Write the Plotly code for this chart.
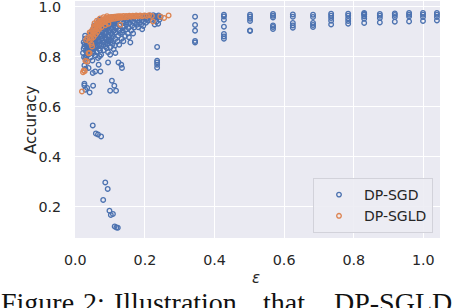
import plotly.graph_objects as go

# ---- DP-SGD (blue) ----
sgd_eps = [
    # lower scattered points of the main cluster
    0.026, 0.029, 0.026, 0.029, 0.050, 0.057, 0.072, 0.038, 0.067, 0.124, 0.132, 0.134, 0.094, 0.158, 0.100, 0.115,
    0.026, 0.026, 0.029, 0.034, 0.041, 0.051, 0.105, 0.112, 0.100, 0.117,
    # dense cluster
    0.022, 0.024, 0.027, 0.030, 0.033, 0.035, 0.037, 0.039, 0.031, 0.025, 0.036, 0.028,
    0.041, 0.043, 0.045, 0.046, 0.048, 0.050, 0.052, 0.053, 0.055, 0.056, 0.058, 0.059, 0.044, 0.047, 0.051, 0.057, 0.054, 0.042,
    0.061, 0.062, 0.063, 0.064, 0.066, 0.067, 0.068, 0.069, 0.071, 0.072, 0.073, 0.074, 0.076, 0.077, 0.078, 0.079, 0.065, 0.070, 0.075, 0.063,
    0.081, 0.082, 0.083, 0.084, 0.085, 0.086, 0.087, 0.088, 0.089, 0.091, 0.092, 0.093, 0.094, 0.095, 0.096, 0.097, 0.098, 0.099, 0.090, 0.085,
    0.101, 0.102, 0.103, 0.104, 0.105, 0.106, 0.107, 0.108, 0.109, 0.111, 0.112, 0.113, 0.114, 0.115, 0.116, 0.117, 0.118, 0.119, 0.110, 0.104,
    0.121, 0.123, 0.125, 0.127, 0.129, 0.131, 0.133, 0.135, 0.137, 0.139, 0.141, 0.143, 0.145, 0.147, 0.149, 0.126, 0.138, 0.144, 0.122, 0.134,
    0.151, 0.153, 0.155, 0.157, 0.159, 0.161, 0.163, 0.165, 0.167, 0.169, 0.171, 0.173, 0.175, 0.177, 0.179, 0.154, 0.166,
    0.181, 0.183, 0.185, 0.187, 0.189, 0.191, 0.193, 0.195, 0.197, 0.199, 0.201, 0.203, 0.205, 0.207, 0.209, 0.192,
    0.212, 0.215, 0.218, 0.221, 0.224, 0.227, 0.230, 0.233, 0.236, 0.239, 0.242, 0.245, 0.228, 0.238,
    # extra density in the lower-left of the cluster
    0.030, 0.034, 0.038, 0.043, 0.047, 0.052, 0.056, 0.061, 0.066, 0.071, 0.076, 0.081, 0.086, 0.091, 0.096, 0.101,
    0.033, 0.040, 0.049, 0.058, 0.064, 0.070, 0.079, 0.088, 0.097, 0.106, 0.113, 0.120, 0.128, 0.136,
    0.035, 0.045, 0.055, 0.065, 0.075, 0.084, 0.093, 0.103, 0.111, 0.119, 0.127, 0.140, 0.148,
    0.024, 0.028, 0.032, 0.037, 0.042, 0.046, 0.053, 0.060, 0.069, 0.078, 0.087, 0.095,
    # column near 0.235
    0.235, 0.235, 0.235, 0.235, 0.235,
    # low outliers
    0.050, 0.059, 0.065, 0.074, 0.086, 0.093, 0.080, 0.098, 0.102, 0.108, 0.113, 0.118, 0.122,
    # larger-epsilon columns
    0.344, 0.344, 0.344, 0.344, 0.344,
    0.427, 0.427, 0.427, 0.427, 0.427, 0.427, 0.427,
    0.502, 0.502, 0.502, 0.502, 0.502, 0.502,
    0.568, 0.568, 0.568, 0.568, 0.568, 0.568,
    0.625, 0.625, 0.625, 0.625, 0.625,
    0.683, 0.683, 0.683, 0.683, 0.683,
    0.735, 0.735, 0.735, 0.735, 0.735,
    0.784, 0.784, 0.784, 0.784, 0.784,
    0.830, 0.830, 0.830, 0.830, 0.830, 0.830,
    0.875, 0.875, 0.875, 0.875,
    0.918, 0.918, 0.918, 0.918,
    0.959, 0.959, 0.959, 0.959,
    0.999, 0.999, 0.999, 0.999,
    1.039, 1.039, 1.039, 1.039,
]
sgd_acc = [
    0.841, 0.795, 0.765, 0.752, 0.735, 0.741, 0.741, 0.755, 0.768, 0.777, 0.768, 0.755, 0.777, 0.857, 0.808, 0.815,
    0.692, 0.685, 0.668, 0.675, 0.657, 0.684, 0.704, 0.684, 0.664, 0.664,
    0.815, 0.832, 0.851, 0.823, 0.842, 0.866, 0.808, 0.876, 0.862, 0.798, 0.829, 0.872,
    0.812, 0.836, 0.858, 0.884, 0.902, 0.821, 0.846, 0.871, 0.893, 0.918, 0.805, 0.862, 0.797, 0.870, 0.911, 0.838, 0.925, 0.889,
    0.818, 0.847, 0.876, 0.902, 0.929, 0.941, 0.832, 0.861, 0.889, 0.915, 0.936, 0.808, 0.851, 0.874, 0.897, 0.922, 0.795, 0.948, 0.943, 0.921,
    0.826, 0.857, 0.883, 0.909, 0.932, 0.948, 0.842, 0.869, 0.895, 0.919, 0.941, 0.953, 0.818, 0.862, 0.887, 0.905, 0.927, 0.945, 0.835, 0.876,
    0.838, 0.866, 0.892, 0.913, 0.934, 0.951, 0.851, 0.879, 0.902, 0.925, 0.943, 0.956, 0.845, 0.871, 0.897, 0.918, 0.937, 0.949, 0.830, 0.958,
    0.861, 0.884, 0.906, 0.928, 0.944, 0.957, 0.872, 0.896, 0.917, 0.935, 0.951, 0.883, 0.909, 0.929, 0.946, 0.848, 0.862, 0.958, 0.952, 0.940,
    0.893, 0.915, 0.934, 0.949, 0.959, 0.905, 0.924, 0.941, 0.955, 0.917, 0.936, 0.951, 0.962, 0.928, 0.946, 0.878, 0.893,
    0.918, 0.937, 0.952, 0.962, 0.929, 0.946, 0.958, 0.923, 0.941, 0.955, 0.964, 0.936, 0.951, 0.962, 0.944, 0.910,
    0.958, 0.965, 0.948, 0.960, 0.966, 0.953, 0.962, 0.940, 0.957, 0.965, 0.949, 0.959, 0.929, 0.932,
    0.787, 0.818, 0.848, 0.826, 0.857, 0.815, 0.879, 0.839, 0.867, 0.825, 0.884, 0.846, 0.873, 0.851, 0.879, 0.858,
    0.853, 0.870, 0.785, 0.880, 0.888, 0.802, 0.906, 0.910, 0.869, 0.888, 0.906, 0.918, 0.895, 0.905,
    0.780, 0.826, 0.851, 0.860, 0.882, 0.893, 0.912, 0.924, 0.936, 0.942, 0.925, 0.921, 0.938,
    0.858, 0.884, 0.805, 0.851, 0.829, 0.895, 0.829, 0.872, 0.845, 0.864, 0.898, 0.866,
    0.839, 0.784, 0.777, 0.768, 0.756,
    0.525, 0.493, 0.489, 0.481, 0.297, 0.271, 0.227, 0.184, 0.167, 0.171, 0.121, 0.117, 0.116,
    0.960, 0.927, 0.904, 0.863, 0.857,
    0.968, 0.961, 0.948, 0.920, 0.891, 0.881, 0.872,
    0.968, 0.961, 0.952, 0.943, 0.905, 0.903,
    0.971, 0.964, 0.957, 0.925, 0.919, 0.911,
    0.969, 0.960, 0.935, 0.925, 0.916,
    0.968, 0.959, 0.935, 0.927, 0.919,
    0.972, 0.964, 0.955, 0.944, 0.929,
    0.972, 0.964, 0.953, 0.943, 0.932,
    0.975, 0.971, 0.968, 0.961, 0.952, 0.935,
    0.971, 0.964, 0.955, 0.937,
    0.973, 0.967, 0.959, 0.940,
    0.975, 0.968, 0.961, 0.941,
    0.975, 0.968, 0.959, 0.943,
    0.975, 0.968, 0.959, 0.945,
]

# ---- DP-SGLD (orange) ----
sgld_eps = [
    0.019, 0.024, 0.027, 0.022, 0.029, 0.034, 0.038, 0.041, 0.048, 0.031, 0.034, 0.041, 0.053, 0.067, 0.129, 0.223,
    0.244, 0.255, 0.268,
    0.040, 0.042, 0.044, 0.046, 0.048, 0.050, 0.052, 0.054, 0.056, 0.058, 0.060, 0.062, 0.064, 0.066, 0.068, 0.070,
    0.072, 0.074, 0.076, 0.078, 0.080, 0.082, 0.084, 0.086, 0.088, 0.090, 0.092, 0.094, 0.096, 0.098, 0.100, 0.103,
    0.106, 0.109, 0.112, 0.115, 0.118, 0.121, 0.124, 0.127, 0.130, 0.134, 0.138, 0.142, 0.146, 0.150, 0.155, 0.160,
    0.165, 0.170, 0.175, 0.180, 0.186, 0.192, 0.198, 0.205, 0.212, 0.220,
    0.058, 0.063, 0.068, 0.075, 0.086, 0.095, 0.052, 0.046, 0.071, 0.081, 0.091, 0.062, 0.055,
]
sgld_acc = [
    0.661, 0.745, 0.742, 0.738, 0.783, 0.781, 0.814, 0.815, 0.841, 0.867, 0.875, 0.897, 0.921, 0.935, 0.928, 0.941,
    0.961, 0.955, 0.965,
    0.862, 0.878, 0.893, 0.871, 0.905, 0.887, 0.912, 0.899, 0.921, 0.906, 0.928, 0.913, 0.934, 0.920, 0.939, 0.926,
    0.943, 0.931, 0.946, 0.935, 0.949, 0.938, 0.951, 0.941, 0.953, 0.944, 0.955, 0.946, 0.957, 0.948, 0.958, 0.950,
    0.959, 0.952, 0.960, 0.953, 0.961, 0.955, 0.962, 0.956, 0.962, 0.957, 0.963, 0.958, 0.963, 0.959, 0.964, 0.960,
    0.964, 0.961, 0.965, 0.962, 0.965, 0.962, 0.965, 0.963, 0.966, 0.963,
    0.889, 0.899, 0.910, 0.918, 0.926, 0.932, 0.878, 0.851, 0.953, 0.958, 0.962, 0.944, 0.934,
]

x_ticks = [0.0, 0.2, 0.4, 0.6, 0.8, 1.0]
x_ticklabels = ["0.0", "0.2", "0.4", "0.6", "0.8", "1.0"]
y_ticks = [0.2, 0.4, 0.6, 0.8, 1.0]
y_ticklabels = ["0.2", "0.4", "0.6", "0.8", "1.0"]
caption_words = ["Figure", "2:", "Illustration", "that", "DP-SGLD"]

BLUE = "#4c72b0"
ORANGE = "#dd8452"
TXT = "#262626"
FONT = "DejaVu Sans"

fig = go.Figure()
fig.add_trace(go.Scatter(
    x=sgd_eps, y=sgd_acc, mode="markers", name="DP-SGD",
    marker=dict(symbol="circle-open", size=4.6, color=BLUE, line=dict(width=1.3, color=BLUE)),
))
fig.add_trace(go.Scatter(
    x=sgld_eps, y=sgld_acc, mode="markers", name="DP-SGLD",
    marker=dict(symbol="circle-open", size=4.6, color=ORANGE, line=dict(width=1.3, color=ORANGE)),
))

W, H = 474, 308
ML, MR, MT, MB = 75, 34, 1, 70
pw, ph = W - ML - MR, H - MT - MB

def px_x(p):
    return (p - ML) / pw

def px_y(p):
    return (H - MB - p) / ph

fig.update_layout(
    width=W, height=H,
    margin=dict(l=ML, r=MR, t=MT, b=MB, pad=0, autoexpand=False),
    paper_bgcolor="white",
    plot_bgcolor="#eaeaf2",
    font=dict(family=FONT, size=14, color=TXT),
    showlegend=True,
    legend=dict(
        x=px_x(433), y=px_y(233), xanchor="right", yanchor="bottom",
        bgcolor="rgba(236,236,243,0.9)", bordercolor="#d2d2da", borderwidth=1,
        font=dict(family=FONT, size=14, color=TXT),
        itemsizing="trace", itemwidth=40,
    ),
    xaxis=dict(
        range=[-0.001, -0.001 + pw / 348.0],
        tickvals=x_ticks, ticktext=x_ticklabels,
        showgrid=True, gridcolor="white", gridwidth=1.3,
        zeroline=False, showline=False, automargin=False,
        ticks="outside", ticklen=9, tickcolor="rgba(0,0,0,0)",
        ticklabeloverflow="allow",
        tickfont=dict(family=FONT, size=14.3, color=TXT),
    ),
    yaxis=dict(
        range=[0.0748, 0.0748 + ph / 250.0],
        tickvals=y_ticks, ticktext=y_ticklabels,
        showgrid=True, gridcolor="white", gridwidth=1.3,
        zeroline=False, showline=False, automargin=False,
        ticks="outside", ticklen=10, tickcolor="rgba(0,0,0,0)",
        ticklabeloverflow="allow",
        tickfont=dict(family=FONT, size=14.3, color=TXT),
    ),
)

fig.add_annotation(
    text="Accuracy", x=px_x(31), y=px_y(120), xref="paper", yref="paper",
    showarrow=False, textangle=-90, xanchor="center", yanchor="middle",
    font=dict(family=FONT, size=15, color=TXT),
)
fig.add_annotation(
    text="<i>ε</i>", x=px_x(256), y=px_y(278), xref="paper", yref="paper",
    showarrow=False, xanchor="center", yanchor="middle",
    font=dict(family=FONT, size=15, color=TXT),
)
for word, left in zip(caption_words, [0, 82, 113, 262, 333]):
    fig.add_annotation(
        text=word, x=px_x(left), y=px_y(286), xref="paper", yref="paper",
        showarrow=False, xanchor="left", yanchor="top", borderpad=0,
        font=dict(family="Liberation Serif", size=28, color="#111111"),
    )

fig.write_html(
    "out.html",
    config={"displayModeBar": False},
    post_script="document.body.style.margin='0';document.body.style.padding='0';",
)
